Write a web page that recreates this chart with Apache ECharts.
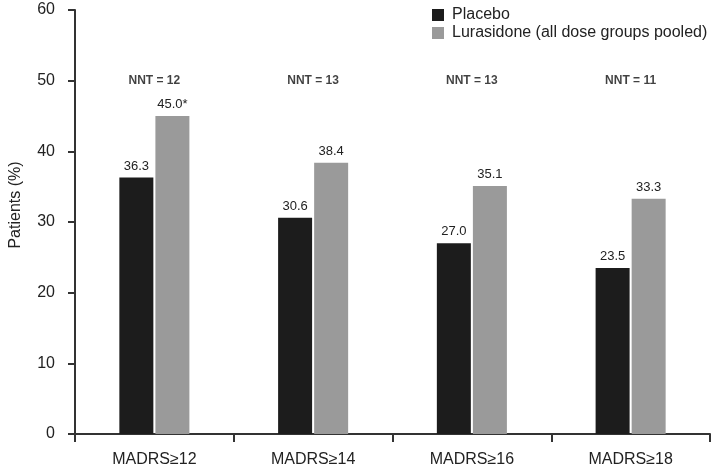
<!DOCTYPE html>
<html><head><meta charset="utf-8">
<script src="https://cdn.jsdelivr.net/npm/echarts@6/dist/echarts.min.js"></script>
<style>html,body{margin:0;padding:0;background:#fff}#c{width:714px;height:471px}</style>
</head><body><div id="c"></div>
<script>
var categories = ['MADRS\u226512', 'MADRS\u226514', 'MADRS\u226516', 'MADRS\u226518'];
var placebo = [36.3, 30.6, 27.0, 23.5];
var lurasidone = [45.0, 38.4, 35.1, 33.3];
var lurasidoneMarks = ['*', '', '', ''];
var nnt = [12, 13, 13, 11];
var nntLevel = [50, 50, 50, 50];
var yTicks = [0, 10, 20, 30, 40, 50, 60];

var F = 'Arial, "Liberation Sans", Helvetica, sans-serif';
var chart = echarts.init(document.getElementById('c'), null, {renderer: 'canvas'});
chart.setOption({
  animation: false,
  textStyle: {fontFamily: F},
  grid: {left: 70, right: 4, top: 10, bottom: 37, containLabel: false},
  legend: {
    data: ['Placebo', 'Lurasidone (all dose groups pooled)'],
    orient: 'vertical', left: 427, top: 2, itemGap: 2,
    itemWidth: 12, itemHeight: 12, icon: 'rect',
    textStyle: {fontFamily: F, fontSize: 16, color: '#222', padding: [0, 0, 0, 3]}
  },
  xAxis: {
    type: 'category', data: categories,
    axisLine: {lineStyle: {color: '#333', width: 2}},
    axisTick: {show: true, inside: false, length: 8, lineStyle: {color: '#333', width: 2}},
    axisLabel: {fontFamily: F, fontSize: 16, color: '#222', margin: 18}
  },
  yAxis: {
    type: 'value', min: yTicks[0], max: yTicks[yTicks.length - 1], interval: 10,
    name: 'Patients (%)', nameLocation: 'middle', nameGap: 51, nameRotate: 90,
    nameTextStyle: {fontFamily: F, fontSize: 16, color: '#222', padding: [0, 0, 0, 34]},
    axisLine: {show: true, lineStyle: {color: '#333', width: 2}},
    axisTick: {show: true, length: 7, lineStyle: {color: '#333', width: 2}},
    axisLabel: {fontFamily: F, fontSize: 16, color: '#222', margin: 20},
    splitLine: {show: false}
  },
  series: [
    {
      name: 'Placebo', type: 'bar', data: placebo,
      barWidth: 34, barGap: '6%',
      itemStyle: {color: '#1c1c1c'},
      label: {show: true, position: 'top', distance: 5, fontFamily: F, fontSize: 13, color: '#222',
        formatter: function (p) { return p.value.toFixed(1); }}
    },
    {
      name: 'Lurasidone (all dose groups pooled)', type: 'bar', data: lurasidone,
      barWidth: 34, barGap: '6%',
      itemStyle: {color: '#9a9a9a'},
      label: {show: true, position: 'top', distance: 5, fontFamily: F, fontSize: 13, color: '#222',
        formatter: function (p) { return p.value.toFixed(1) + lurasidoneMarks[p.dataIndex]; }}
    },
    {
      name: 'NNT', type: 'scatter', symbolSize: 0, silent: true,
      data: nntLevel,
      label: {show: true, position: 'inside', fontFamily: F, fontSize: 12, fontWeight: 'bold', color: '#111',
        formatter: function (p) { return 'NNT = ' + nnt[p.dataIndex]; }}
    }
  ]
});
</script></body></html>
